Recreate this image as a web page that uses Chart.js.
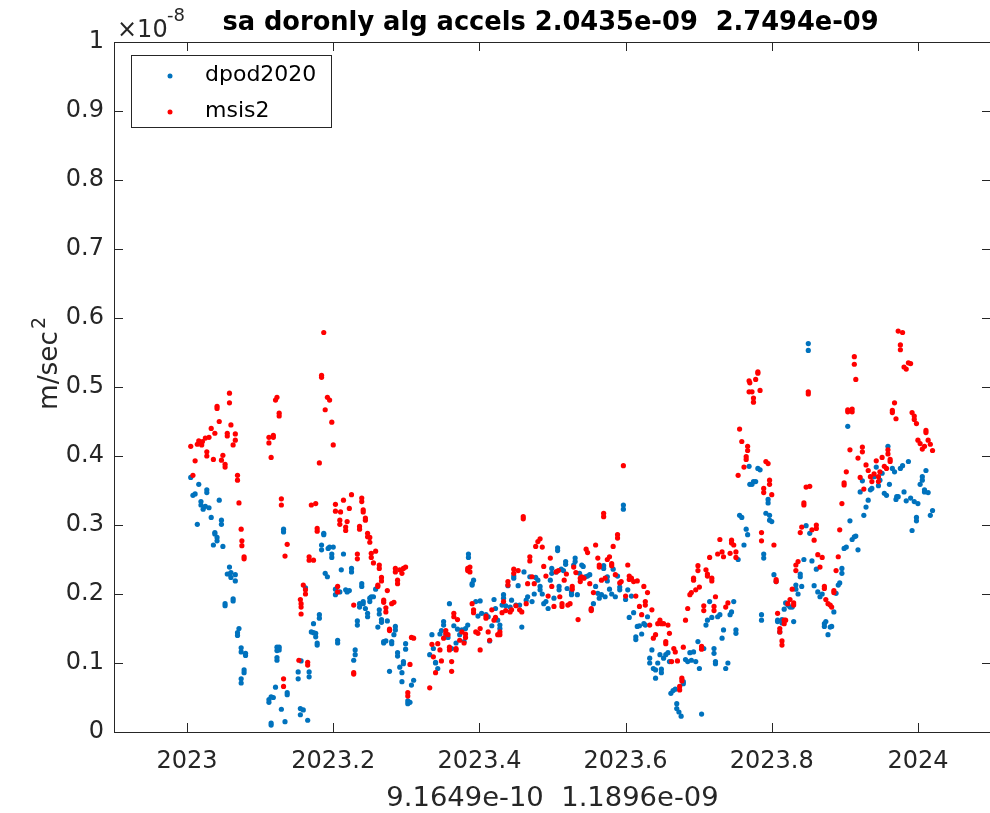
<!DOCTYPE html>
<html>
<head>
<meta charset="utf-8">
<script src="https://cdn.jsdelivr.net/npm/chart.js@4.4.1/dist/chart.umd.min.js"></script>
<style>
  html, body { margin: 0; padding: 0; background: #fff; overflow: hidden; }
  #wrap { position: relative; width: 1010px; height: 813px; }
</style>
</head>
<body>
<div id="wrap"><canvas id="chart" width="1010" height="813"></canvas></div>
<script>
// accelerations, in units of 1e-8 m/sec^2, x = decimal year
const dpod2020 = [
  [2023.005,0.369],[2023.008,0.343],[2023.011,0.345],[2023.014,0.301],[2023.016,0.359],[2023.019,0.334],[2023.019,0.329],[2023.022,0.323],
  [2023.025,0.327],[2023.027,0.351],[2023.027,0.347],[2023.030,0.325],[2023.033,0.311],[2023.036,0.271],[2023.038,0.289],[2023.038,0.287],
  [2023.041,0.282],[2023.041,0.277],[2023.044,0.336],[2023.047,0.307],[2023.047,0.301],[2023.049,0.269],[2023.052,0.186],[2023.052,0.183],
  [2023.055,0.229],[2023.058,0.239],[2023.058,0.229],[2023.060,0.231],[2023.060,0.224],[2023.063,0.193],[2023.063,0.190],[2023.066,0.228],
  [2023.066,0.219],[2023.069,0.144],[2023.069,0.140],[2023.071,0.150],[2023.074,0.122],[2023.074,0.116],[2023.074,0.077],[2023.074,0.071],
  [2023.078,0.090],[2023.078,0.086],[2023.080,0.114],[2023.080,0.111],
  [2023.112,0.047],[2023.112,0.043],[2023.115,0.051],[2023.115,0.013],[2023.115,0.010],[2023.118,0.050],[2023.121,0.065],[2023.123,0.123],
  [2023.123,0.118],[2023.123,0.108],[2023.123,0.104],[2023.126,0.123],[2023.126,0.119],[2023.129,0.033],[2023.132,0.294],[2023.132,0.290],
  [2023.134,0.015],[2023.137,0.057],[2023.137,0.054],
  [2023.152,0.087],[2023.152,0.077],[2023.155,0.034],[2023.155,0.025],[2023.156,0.103],[2023.159,0.032],[2023.162,0.209],[2023.165,0.017],
  [2023.167,0.087],[2023.167,0.080],[2023.170,0.145],[2023.173,0.157],[2023.173,0.144],[2023.176,0.143],[2023.176,0.138],[2023.178,0.129],
  [2023.178,0.126],[2023.181,0.170],[2023.181,0.165],[2023.184,0.271],[2023.184,0.264],[2023.187,0.288],[2023.187,0.286],[2023.189,0.230],
  [2023.192,0.225],[2023.193,0.266],
  [2023.195,0.268],[2023.198,0.258],[2023.198,0.253],[2023.200,0.268],[2023.203,0.207],[2023.203,0.199],[2023.206,0.133],[2023.206,0.129],
  [2023.209,0.203],[2023.211,0.235],[2023.214,0.258],[2023.217,0.206],[2023.219,0.203],[2023.222,0.205],[2023.225,0.237],[2023.225,0.232],
  [2023.228,0.104],[2023.230,0.119],[2023.230,0.112],[2023.233,0.161],[2023.233,0.155],[2023.236,0.186],[2023.236,0.181],[2023.239,0.215],
  [2023.239,0.211],[2023.241,0.189],[2023.241,0.186],[2023.244,0.179],[2023.247,0.172],[2023.247,0.167],[2023.250,0.194],[2023.250,0.189],
  [2023.252,0.196],[2023.255,0.196],[2023.258,0.207],[2023.261,0.152],[2023.263,0.177],[2023.263,0.171],[2023.266,0.163],[2023.266,0.159],
  [2023.269,0.131],[2023.269,0.129],[2023.272,0.132],[2023.274,0.161],[2023.277,0.088],[2023.280,0.131],[2023.280,0.128],[2023.283,0.141],
  [2023.285,0.153],[2023.285,0.148],[2023.288,0.115],[2023.288,0.110],[2023.291,0.094],[2023.294,0.086],[2023.294,0.073],[2023.296,0.102],
  [2023.296,0.099],[2023.299,0.128],[2023.299,0.120],[2023.302,0.045],[2023.302,0.041],[2023.305,0.043],[2023.307,0.068],[2023.310,0.075],
  [2023.332,0.112],[2023.335,0.141],[2023.337,0.121],[2023.340,0.101],[2023.340,0.100],[2023.343,0.092],[2023.346,0.142],[2023.348,0.147],
  [2023.351,0.160],[2023.351,0.155],[2023.354,0.140],[2023.357,0.137],[2023.359,0.186],[2023.362,0.121],[2023.365,0.154],[2023.368,0.129],
  [2023.370,0.149],[2023.373,0.141],[2023.376,0.148],[2023.379,0.131],[2023.381,0.150],[2023.384,0.155],[2023.385,0.258],[2023.385,0.253],
  [2023.390,0.215],[2023.390,0.213],[2023.392,0.220],[2023.395,0.189],[2023.398,0.168],[2023.401,0.190],[2023.403,0.172],[2023.409,0.170],
  [2023.412,0.167],[2023.414,0.132],[2023.417,0.154],[2023.420,0.192],[2023.422,0.179],[2023.425,0.162],[2023.428,0.155],[2023.428,0.150],
  [2023.431,0.184],[2023.433,0.199],[2023.433,0.194],[2023.436,0.183],[2023.439,0.212],[2023.442,0.181],[2023.444,0.191],[2023.447,0.226],
  [2023.447,0.223],[2023.450,0.184],[2023.453,0.212],[2023.455,0.184],[2023.458,0.152],[2023.461,0.232],[2023.464,0.191],[2023.466,0.196],
  [2023.469,0.225],[2023.472,0.189],[2023.475,0.200],[2023.477,0.224],[2023.480,0.220],[2023.483,0.211],[2023.483,0.206],[2023.486,0.200],
  [2023.488,0.186],[2023.491,0.189],[2023.494,0.179],[2023.497,0.220],[2023.499,0.237],[2023.499,0.230],[2023.502,0.194],[2023.505,0.232],
  [2023.507,0.267],[2023.507,0.263],[2023.509,0.211],[2023.509,0.206],[2023.512,0.236],[2023.515,0.234],[2023.518,0.247],[2023.518,0.243],
  [2023.520,0.208],[2023.526,0.203],[2023.526,0.199],[2023.529,0.242],[2023.531,0.252],[2023.531,0.247],[2023.534,0.199],[2023.537,0.230],
  [2023.540,0.242],[2023.542,0.240],[2023.545,0.225],[2023.548,0.226],[2023.551,0.228],[2023.553,0.177],[2023.556,0.186],[2023.559,0.211],
  [2023.562,0.201],[2023.564,0.194],[2023.567,0.199],[2023.570,0.241],[2023.570,0.237],[2023.572,0.196],[2023.575,0.219],[2023.575,0.225],
  [2023.578,0.207],[2023.581,0.200],[2023.583,0.236],[2023.586,0.196],[2023.589,0.226],[2023.592,0.210],[2023.592,0.206],[2023.597,0.329],
  [2023.597,0.323],[2023.600,0.192],[2023.603,0.206],[2023.605,0.166],[2023.608,0.197],[2023.611,0.173],[2023.614,0.138],[2023.614,0.134],
  [2023.616,0.153],[2023.619,0.154],[2023.622,0.142],[2023.625,0.157],[2023.627,0.155],[2023.630,0.167],[2023.633,0.107],[2023.633,0.100],
  [2023.636,0.119],[2023.638,0.092],[2023.641,0.090],[2023.641,0.078],[2023.644,0.100],[2023.647,0.112],[2023.649,0.091],[2023.649,0.086],
  [2023.652,0.107],[2023.655,0.112],[2023.658,0.115],[2023.660,0.102],[2023.662,0.056],[2023.665,0.060],[2023.668,0.062],[2023.670,0.041],
  [2023.670,0.034],[2023.673,0.029],[2023.676,0.023],[2023.679,0.073],[2023.679,0.070],[2023.682,0.105],[2023.685,0.102],[2023.688,0.115],
  [2023.690,0.104],[2023.693,0.116],[2023.696,0.102],[2023.699,0.131],[2023.701,0.092],[2023.704,0.026],[2023.707,0.121],[2023.710,0.155],
  [2023.712,0.162],[2023.715,0.189],[2023.718,0.166],[2023.721,0.121],[2023.721,0.114],[2023.723,0.102],[2023.723,0.099],[2023.726,0.167],
  [2023.729,0.170],[2023.732,0.136],[2023.734,0.148],[2023.737,0.092],[2023.740,0.100],[2023.743,0.170],[2023.745,0.174],[2023.748,0.189],
  [2023.751,0.148],[2023.751,0.143],[2023.754,0.250],[2023.756,0.314],[2023.759,0.311],[2023.762,0.271],[2023.765,0.294],[2023.767,0.286],
  [2023.769,0.385],[2023.770,0.359],[2023.773,0.359],[2023.775,0.363],[2023.778,0.363],[2023.781,0.382],[2023.784,0.380],[2023.786,0.170],
  [2023.786,0.162],[2023.789,0.258],[2023.789,0.252],[2023.792,0.317],[2023.795,0.337],[2023.795,0.332],[2023.797,0.314],[2023.797,0.307],
  [2023.800,0.305],[2023.803,0.228],[2023.806,0.218],[2023.808,0.162],[2023.808,0.160],[2023.811,0.145],[2023.814,0.163],[2023.814,0.158],
  [2023.817,0.178],[2023.819,0.187],[2023.822,0.184],[2023.825,0.181],[2023.828,0.181],[2023.830,0.160],[2023.833,0.213],[2023.833,0.207],
  [2023.836,0.200],[2023.839,0.229],[2023.839,0.225],[2023.841,0.211],[2023.844,0.250],[2023.847,0.299],[2023.850,0.563],[2023.850,0.553],
  [2023.852,0.288],[2023.855,0.248],[2023.858,0.212],[2023.861,0.236],[2023.863,0.203],[2023.866,0.196],[2023.869,0.200],[2023.872,0.157],
  [2023.872,0.153],[2023.874,0.160],[2023.877,0.141],[2023.880,0.152],[2023.882,0.153],[2023.885,0.174],[2023.888,0.201],[2023.891,0.213],
  [2023.893,0.216],[2023.896,0.237],[2023.896,0.230],[2023.899,0.266],[2023.902,0.268],[2023.904,0.443],[2023.907,0.306],[2023.910,0.279],
  [2023.913,0.283],[2023.915,0.284],[2023.918,0.264],[2023.921,0.348],[2023.924,0.364],[2023.926,0.314],[2023.929,0.326],[2023.932,0.336],
  [2023.935,0.351],[2023.937,0.353],[2023.940,0.370],[2023.943,0.384],[2023.946,0.357],[2023.948,0.365],[2023.951,0.375],[2023.954,0.346],
  [2023.957,0.343],[2023.959,0.414],[2023.961,0.359],[2023.965,0.382],[2023.968,0.377],[2023.970,0.337],[2023.971,0.341],[2023.973,0.341],
  [2023.976,0.382],[2023.979,0.386],[2023.981,0.348],[2023.984,0.335],[2023.987,0.392],[2023.990,0.339],[2023.992,0.292],[2023.995,0.334],
  [2023.998,0.311],[2023.998,0.306],[2024.000,0.331],[2024.003,0.359],[2024.006,0.370],[2024.006,0.365],[2024.009,0.351],[2024.009,0.348],
  [2024.011,0.379],[2024.014,0.347],[2024.017,0.314],[2024.020,0.321]
];

const msis2 = [
  [2023.005,0.414],[2023.008,0.372],[2023.011,0.393],[2023.014,0.417],[2023.016,0.422],[2023.019,0.419],[2023.020,0.416],[2023.021,0.421],
  [2023.025,0.426],[2023.027,0.406],[2023.027,0.400],[2023.030,0.427],[2023.033,0.440],[2023.036,0.395],[2023.038,0.433],[2023.041,0.472],
  [2023.041,0.469],[2023.044,0.450],[2023.047,0.394],[2023.049,0.401],[2023.052,0.388],[2023.052,0.384],[2023.055,0.433],[2023.055,0.429],
  [2023.058,0.491],[2023.058,0.477],[2023.060,0.445],[2023.063,0.416],[2023.066,0.432],[2023.066,0.423],[2023.069,0.372],[2023.069,0.365],
  [2023.071,0.332],[2023.074,0.294],[2023.075,0.277],[2023.075,0.270],[2023.078,0.254],[2023.078,0.251],
  [2023.112,0.427],[2023.112,0.419],[2023.115,0.398],[2023.118,0.430],[2023.118,0.427],[2023.121,0.481],[2023.123,0.485],[2023.126,0.462],
  [2023.126,0.458],[2023.129,0.338],[2023.129,0.329],[2023.132,0.077],[2023.132,0.066],[2023.134,0.255],[2023.137,0.272],
  [2023.153,0.104],[2023.155,0.192],[2023.156,0.186],[2023.156,0.181],[2023.156,0.171],[2023.159,0.213],[2023.162,0.206],[2023.162,0.200],
  [2023.165,0.101],[2023.165,0.097],[2023.167,0.254],[2023.167,0.249],[2023.170,0.329],[2023.173,0.249],[2023.176,0.331],[2023.178,0.295],
  [2023.178,0.291],[2023.181,0.390],[2023.184,0.517],[2023.184,0.514],[2023.187,0.579],[2023.189,0.467],[2023.192,0.485],
  [2023.195,0.481],[2023.198,0.449],[2023.200,0.416],[2023.203,0.330],[2023.203,0.320],[2023.206,0.211],[2023.206,0.203],[2023.209,0.307],
  [2023.209,0.301],[2023.210,0.319],[2023.214,0.336],[2023.217,0.297],[2023.217,0.292],[2023.219,0.305],[2023.222,0.324],[2023.225,0.344],
  [2023.228,0.184],[2023.228,0.086],[2023.228,0.084],[2023.233,0.258],[2023.233,0.251],[2023.236,0.298],[2023.236,0.294],[2023.239,0.339],
  [2023.239,0.334],[2023.241,0.322],[2023.241,0.319],[2023.244,0.310],[2023.244,0.307],[2023.247,0.288],[2023.247,0.283],[2023.250,0.282],
  [2023.250,0.275],[2023.252,0.259],[2023.252,0.253],[2023.255,0.245],[2023.258,0.262],[2023.261,0.213],[2023.261,0.211],[2023.263,0.242],
  [2023.263,0.237],[2023.266,0.224],[2023.266,0.219],[2023.269,0.191],[2023.269,0.188],[2023.272,0.180],[2023.272,0.174],[2023.274,0.205],
  [2023.277,0.149],[2023.277,0.147],[2023.280,0.186],[2023.283,0.188],[2023.285,0.237],[2023.285,0.232],[2023.288,0.220],[2023.288,0.215],
  [2023.291,0.235],[2023.294,0.230],[2023.296,0.237],[2023.299,0.239],[2023.302,0.057],[2023.302,0.052],[2023.305,0.098],[2023.307,0.137],
  [2023.310,0.136],
  [2023.332,0.064],[2023.335,0.127],[2023.337,0.109],[2023.340,0.086],[2023.343,0.128],[2023.346,0.119],[2023.348,0.103],[2023.351,0.136],
  [2023.354,0.147],[2023.354,0.143],[2023.357,0.141],[2023.359,0.123],[2023.359,0.119],[2023.362,0.102],[2023.362,0.088],[2023.365,0.172],
  [2023.365,0.167],[2023.368,0.121],[2023.368,0.119],[2023.370,0.163],[2023.373,0.133],[2023.376,0.145],[2023.379,0.129],[2023.381,0.142],
  [2023.381,0.137],[2023.384,0.237],[2023.384,0.234],
  [2023.387,0.239],[2023.387,0.232],[2023.390,0.186],[2023.392,0.177],[2023.392,0.173],[2023.395,0.145],[2023.398,0.143],[2023.401,0.150],
  [2023.401,0.119],[2023.409,0.168],[2023.409,0.165],[2023.412,0.145],[2023.414,0.133],[2023.417,0.177],[2023.420,0.162],[2023.422,0.166],
  [2023.425,0.141],[2023.428,0.145],[2023.428,0.141],[2023.431,0.173],[2023.433,0.189],[2023.436,0.176],[2023.439,0.218],[2023.439,0.213],
  [2023.442,0.174],[2023.444,0.177],[2023.447,0.236],[2023.447,0.230],[2023.450,0.183],[2023.453,0.234],[2023.455,0.177],[2023.458,0.174],
  [2023.460,0.312],[2023.460,0.309],[2023.464,0.186],[2023.466,0.215],[2023.469,0.254],[2023.469,0.248],[2023.472,0.225],[2023.475,0.215],
  [2023.477,0.269],[2023.480,0.276],[2023.483,0.280],[2023.486,0.268],[2023.488,0.240],[2023.491,0.226],[2023.494,0.197],[2023.497,0.252],
  [2023.499,0.211],[2023.502,0.182],[2023.505,0.232],[2023.508,0.234],[2023.510,0.196],[2023.513,0.186],[2023.513,0.182],[2023.516,0.220],
  [2023.519,0.229],[2023.521,0.184],[2023.524,0.186],[2023.527,0.211],[2023.527,0.207],[2023.529,0.239],[2023.532,0.231],[2023.535,0.163],
  [2023.538,0.223],[2023.538,0.218],[2023.540,0.225],[2023.543,0.223],[2023.546,0.265],[2023.548,0.260],[2023.551,0.215],[2023.553,0.179],
  [2023.553,0.176],[2023.556,0.202],[2023.559,0.271],[2023.562,0.252],[2023.564,0.242],[2023.564,0.239],[2023.567,0.220],[2023.570,0.317],
  [2023.570,0.312],[2023.572,0.223],[2023.575,0.250],[2023.578,0.254],
  [2023.581,0.244],[2023.581,0.241],[2023.583,0.269],[2023.586,0.228],[2023.589,0.286],[2023.589,0.281],[2023.592,0.216],[2023.594,0.218],
  [2023.597,0.386],[2023.600,0.197],[2023.603,0.242],[2023.605,0.226],[2023.605,0.221],[2023.608,0.223],[2023.611,0.218],[2023.614,0.197],
  [2023.616,0.219],[2023.619,0.182],[2023.622,0.170],[2023.625,0.211],[2023.627,0.189],[2023.627,0.184],[2023.630,0.202],[2023.633,0.155],
  [2023.636,0.177],[2023.638,0.136],[2023.641,0.141],[2023.644,0.157],[2023.647,0.162],[2023.649,0.157],[2023.652,0.157],[2023.655,0.131],
  [2023.655,0.128],[2023.658,0.155],[2023.660,0.143],[2023.663,0.102],[2023.666,0.121],[2023.668,0.116],[2023.671,0.103],[2023.674,0.066],
  [2023.674,0.061],[2023.677,0.078],[2023.677,0.074],[2023.679,0.123],[2023.682,0.162],[2023.685,0.179],[2023.688,0.199],[2023.690,0.202],
  [2023.693,0.223],[2023.693,0.220],[2023.696,0.206],[2023.699,0.241],[2023.699,0.234],[2023.701,0.210],[2023.704,0.124],[2023.704,0.120],
  [2023.707,0.183],[2023.707,0.176],[2023.710,0.235],[2023.712,0.229],[2023.712,0.226],[2023.715,0.253],[2023.718,0.223],[2023.718,0.219],
  [2023.721,0.182],[2023.721,0.176],[2023.723,0.196],[2023.726,0.258],[2023.729,0.279],[2023.732,0.261],[2023.734,0.254],[2023.737,0.181],
  [2023.740,0.187],[2023.743,0.259],[2023.745,0.278],[2023.745,0.274],[2023.748,0.271],[2023.751,0.261],[2023.751,0.253],[2023.754,0.372],
  [2023.756,0.439],[2023.759,0.421],[2023.762,0.384],[2023.765,0.399],[2023.765,0.395],[2023.767,0.414],[2023.767,0.408],[2023.769,0.509],
  [2023.769,0.493],[2023.770,0.506],[2023.773,0.493],[2023.775,0.484],[2023.775,0.478],[2023.778,0.511],[2023.781,0.522],[2023.781,0.520],
  [2023.784,0.495],[2023.786,0.289],[2023.786,0.277],[2023.789,0.353],[2023.789,0.347],[2023.792,0.392],[2023.795,0.389],[2023.797,0.365],
  [2023.797,0.359],[2023.800,0.344],[2023.803,0.271],[2023.806,0.221],[2023.806,0.218],[2023.808,0.172],[2023.811,0.150],[2023.811,0.145],
  [2023.814,0.132],[2023.814,0.126],[2023.817,0.162],[2023.817,0.157],[2023.819,0.162],[2023.822,0.186],[2023.825,0.192],[2023.828,0.207],
  [2023.830,0.187],[2023.830,0.184],[2023.833,0.242],[2023.833,0.234],[2023.836,0.247],[2023.839,0.289],[2023.841,0.297],[2023.844,0.332],
  [2023.844,0.329],[2023.847,0.355],[2023.850,0.493],[2023.850,0.490],[2023.852,0.356],[2023.855,0.293],[2023.858,0.278],[2023.861,0.300],
  [2023.861,0.295],[2023.863,0.257],[2023.866,0.239],[2023.869,0.253],[2023.872,0.211],[2023.872,0.208],[2023.874,0.192],[2023.877,0.186],
  [2023.880,0.184],[2023.882,0.181],[2023.885,0.205],[2023.885,0.202],[2023.888,0.234],[2023.891,0.254],[2023.893,0.293],[2023.896,0.331],
  [2023.899,0.361],[2023.899,0.358],[2023.902,0.377],[2023.904,0.467],[2023.904,0.464],[2023.907,0.409],[2023.910,0.468],[2023.910,0.464],
  [2023.913,0.544],[2023.913,0.533],[2023.915,0.511],[2023.918,0.397],[2023.921,0.369],[2023.924,0.413],[2023.924,0.406],[2023.926,0.352],
  [2023.929,0.387],[2023.932,0.379],[2023.935,0.370],[2023.937,0.363],[2023.940,0.374],[2023.943,0.393],[2023.946,0.370],[2023.946,0.363],
  [2023.948,0.377],[2023.951,0.398],[2023.954,0.385],[2023.957,0.382],[2023.959,0.409],[2023.959,0.403],[2023.962,0.395],[2023.962,0.392],
  [2023.965,0.466],[2023.965,0.463],[2023.968,0.477],[2023.970,0.454],[2023.973,0.581],[2023.976,0.561],[2023.976,0.554],[2023.979,0.579],
  [2023.981,0.529],[2023.984,0.526],[2023.987,0.535],[2023.990,0.534],[2023.992,0.463],[2023.995,0.458],[2023.995,0.453],[2023.998,0.447],
  [2024.000,0.423],[2024.003,0.418],[2024.006,0.410],[2024.009,0.414],[2024.011,0.437],[2024.011,0.434],[2024.014,0.423],[2024.017,0.417],
  [2024.020,0.408]
];

const xTicks = [2023, 2023.2, 2023.4, 2023.6, 2023.8, 2024];
const xTickLabels = ["2023", "2023.2", "2023.4", "2023.6", "2023.8", "2024"];
const yTicks = [0, 0.1, 0.2, 0.3, 0.4, 0.5, 0.6, 0.7, 0.8, 0.9, 1];
const yTickLabels = ["0", "0.1", "0.2", "0.3", "0.4", "0.5", "0.6", "0.7", "0.8", "0.9", "1"];

const chartTitle = "sa doronly alg accels 2.0435e-09  2.7494e-09";
const xTitle = "9.1649e-10  1.1896e-09";
const seriesNames = ["dpod2020", "msis2"];
const seriesColors = ["#0072BD", "#FF0000"];

const FONT = "'DejaVu Sans', sans-serif";
const AXIS_COLOR = "#262626";

// matlab-ish box, inward ticks, labels and legend
const matlabDecor = {
  id: "matlabDecor",
  afterDatasetsDraw(chart) {
    const { ctx, chartArea: a, scales: { x, y } } = chart;
    const tl = 9;
    ctx.save();
    ctx.strokeStyle = AXIS_COLOR;
    ctx.lineWidth = 1;
    ctx.beginPath();
    ctx.rect(a.left + 0.5, a.top + 0.5, a.right - a.left, a.bottom - a.top);
    xTicks.forEach(v => {
      const px = Math.round(x.getPixelForValue(v)) + 0.5;
      ctx.moveTo(px, a.bottom); ctx.lineTo(px, a.bottom - tl);
      ctx.moveTo(px, a.top); ctx.lineTo(px, a.top + tl);
    });
    yTicks.forEach(v => {
      const py = Math.round(y.getPixelForValue(v)) + 0.5;
      ctx.moveTo(a.left, py); ctx.lineTo(a.left + tl, py);
      ctx.moveTo(a.right, py); ctx.lineTo(a.right - tl, py);
    });
    ctx.stroke();
    ctx.restore();
  },
  afterDraw(chart) {
    const { ctx, chartArea: a } = chart;
    const cx = (a.left + a.right) / 2;
    ctx.save();

    // title
    ctx.fillStyle = "#000";
    ctx.textAlign = "center";
    ctx.textBaseline = "alphabetic";
    ctx.font = "bold 25.7px " + FONT;
    ctx.fillText(chartTitle, cx - 2, 30);

    // x label
    ctx.fillStyle = AXIS_COLOR;
    ctx.font = "27.4px " + FONT;
    ctx.fillText(xTitle, cx, 806);

    // exponent
    ctx.textAlign = "left";
    ctx.font = "24px " + FONT;
    ctx.fillText("\u00d710", 117, 37);
    ctx.font = "18px " + FONT;
    ctx.fillText("-8", 167, 21);

    // y label, rotated
    ctx.save();
    ctx.translate(57, 410);
    ctx.rotate(-Math.PI / 2);
    ctx.font = "26.4px " + FONT;
    ctx.fillText("m/sec", 0, 0);
    const w = ctx.measureText("m/sec").width;
    ctx.font = "19px " + FONT;
    ctx.fillText("2", w + 2, -12);
    ctx.restore();

    // legend
    const lx = 131, ly = 55, lw = 200, lh = 72;
    ctx.fillStyle = "#fff";
    ctx.fillRect(lx, ly, lw, lh);
    ctx.strokeStyle = AXIS_COLOR;
    ctx.lineWidth = 1;
    ctx.strokeRect(lx + 0.5, ly + 0.5, lw, lh);
    const rows = [75, 111];
    ctx.font = "22px " + FONT;
    ctx.textBaseline = "middle";
    seriesNames.forEach((name, i) => {
      ctx.fillStyle = seriesColors[i];
      ctx.beginPath();
      ctx.arc(170, rows[i] + 1, 2.5, 0, Math.PI * 2);
      ctx.fill();
      ctx.fillStyle = "#000";
      ctx.fillText(name, 205, rows[i]);
    });
    ctx.restore();
  }
};

const toPoints = arr => arr.map(p => ({ x: p[0], y: p[1] }));

new Chart(document.getElementById("chart").getContext("2d"), {
  type: "scatter",
  data: {
    datasets: [
      {
        label: seriesNames[0],
        data: toPoints(dpod2020),
        backgroundColor: seriesColors[0],
        pointRadius: 2.6,
        pointBorderWidth: 0,
        order: 1
      },
      {
        label: seriesNames[1],
        data: toPoints(msis2),
        backgroundColor: seriesColors[1],
        pointRadius: 2.6,
        pointBorderWidth: 0,
        order: 0
      }
    ]
  },
  options: {
    responsive: false,
    animation: false,
    devicePixelRatio: 1,
    layout: { padding: { top: 42, right: 19, left: 0, bottom: 0 } },
    plugins: {
      legend: { display: false },
      title: { display: false },
      tooltip: { enabled: false }
    },
    scales: {
      x: {
        type: "linear",
        min: 2022.9,
        max: 2024.1,
        grid: { display: false, drawTicks: false },
        border: { display: false },
        afterBuildTicks: s => { s.ticks = xTicks.map(v => ({ value: v })); },
        afterFit: s => { s.height = 81; },
        ticks: {
          autoSkip: false,
          maxRotation: 0,
          padding: 15,
          color: AXIS_COLOR,
          font: { family: FONT, size: 24 },
          callback: (v, i) => xTickLabels[i]
        }
      },
      y: {
        min: 0,
        max: 1,
        grid: { display: false, drawTicks: false },
        border: { display: false },
        afterBuildTicks: s => { s.ticks = yTicks.map(v => ({ value: v })); },
        afterFit: s => { s.width = 114; },
        ticks: {
          padding: 10,
          color: AXIS_COLOR,
          font: { family: FONT, size: 24 },
          callback: (v, i) => yTickLabels[i]
        }
      }
    }
  },
  plugins: [matlabDecor]
});
</script>
</body>
</html>
